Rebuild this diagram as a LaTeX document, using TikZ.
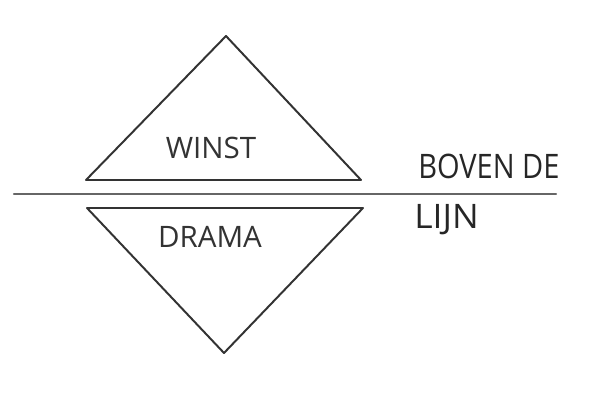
\documentclass[tikz,border=0pt]{standalone}
\usepackage{fontspec}
\setsansfont{Open Sans}
\usetikzlibrary{positioning,calc}
\tikzset{
  trl/.style={draw=black!80,line width=1.4pt,line join=round,line cap=round},
  lijn/.style={draw=black!60,line width=1.6pt,line cap=round},
  wrd/.style={font=\sffamily\fontsize{21}{24}\selectfont,text=black!80,inner sep=0pt},
  big/.style={font=\sffamily\fontsize{24}{28}\selectfont,text=black!85,inner sep=0pt},
}
\begin{document}
\begin{tikzpicture}[x=0.025cm,y=-0.025cm]
  \useasboundingbox (0,0) rectangle (600,400);
  % boven en onder
  \draw[trl] (86,180) -- (226,36) -- (361,180) -- cycle;
  \draw[trl] (87,208) -- (363,208) -- (224,353) -- cycle;
  \draw[lijn] (14,194) -- (556,194);
  \node[wrd] (winst) at (211,148) {WINST};
  \node[wrd] (drama) at (210,237) {DRAMA};
  \node[big,anchor=west] (boven) at (418,166) {\scalebox{0.86}[1]{BOVEN DE}};
  \node[big,anchor=west] (lijn) at (414,220) {\scalebox{1.05}[1]{LIJN}};
\end{tikzpicture}
\end{document}
